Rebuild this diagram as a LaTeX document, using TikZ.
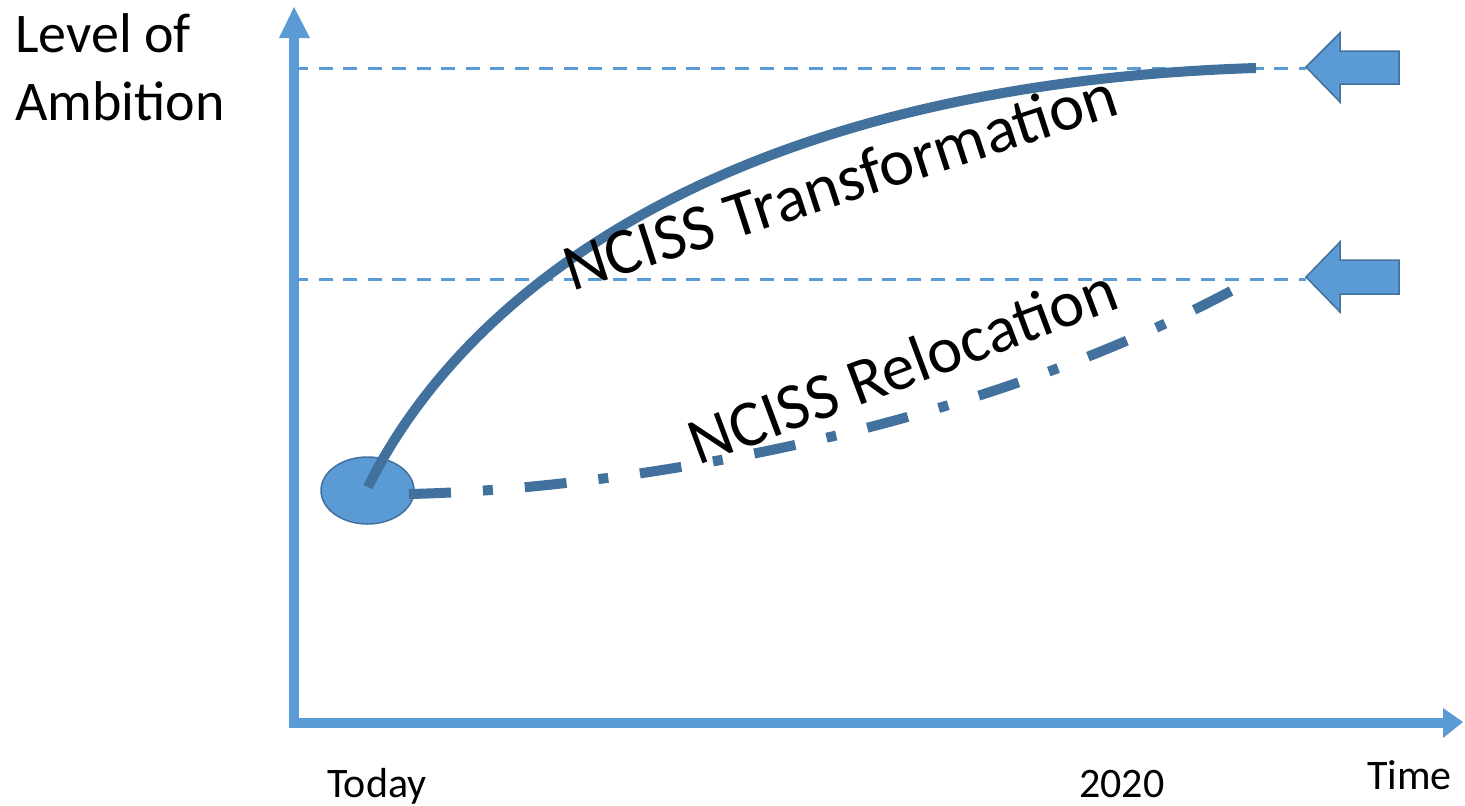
\documentclass[tikz,border=0pt]{standalone}
\usepackage{fontspec}
\setmainfont{Carlito}
\usetikzlibrary{arrows.meta}
\definecolor{axisblue}{HTML}{5B9BD5}
\definecolor{curveblue}{HTML}{41719C}
\tikzset{
  axisline/.style={draw=axisblue, line width=10pt},
  levelline/.style={draw=axisblue, line width=3pt, dash pattern=on 14pt off 10.5pt},
  curveline/.style={draw=curveblue, line width=10pt},
  dashdotline/.style={draw=curveblue, line width=10pt, dash pattern=on 42pt off 32pt on 10pt off 32pt},
  blockarrow/.style={fill=axisblue, draw=curveblue, line width=1.5pt, line join=miter},
  startblob/.style={fill=axisblue, draw=curveblue, line width=1.5pt},
  biglabel/.style={font=\fontsize{66}{79}\selectfont, inner sep=0pt},
  ticklabel/.style={font=\fontsize{42}{50}\selectfont, inner sep=0pt},
  axislabel/.style={font=\fontsize{56}{68}\selectfont, inner sep=0pt, align=left},
}
\begin{document}
\begin{tikzpicture}[x=1pt,y=-1pt]
\useasboundingbox (0,0) rectangle (1465,806);
% axes
\coordinate (origin) at (294,723);
\coordinate (ybot) at (294,728);
\coordinate (ytop) at (294,37);
\coordinate (xright) at (1444,723);
\draw[axisline] (ybot) -- (ytop);
\fill[axisblue] (279,38) -- (294,7) -- (310,38) -- cycle;
\draw[axisline] (origin) -- (xright);
\fill[axisblue] (1443,708) -- (1463,722) -- (1443,738) -- cycle;
% level lines
\coordinate (l1a) at (294,68);
\coordinate (l1b) at (1306,68);
\coordinate (l2a) at (294,279);
\coordinate (l2b) at (1306,279);
\draw[levelline] (l1a) -- (l1b);
\draw[levelline] (l2a) -- (l2b);
% block arrows
\draw[blockarrow] (1306,67) -- (1340,33) -- (1340,51) -- (1399,51) -- (1399,84) -- (1340,84) -- (1340,102) -- cycle;
\draw[blockarrow] (1306,277) -- (1340,242) -- (1340,260) -- (1399,260) -- (1399,294) -- (1340,294) -- (1340,312) -- cycle;
% start ellipse
\draw[startblob] (367.5,490.5) ellipse [x radius=46.5, y radius=33.5];
\coordinate (s1) at (368,487);
\coordinate (e1) at (1256,68);
\coordinate (s2) at (409,494);
\coordinate (e2) at (1231,291);
\draw[curveline] (s1) .. controls (460,300) and (715,85) .. (e1);
\draw[dashdotline] (s2) .. controls (600,490) and (950,440) .. (e2);
% labels
\node[biglabel, anchor=base west, rotate=18] (tr) at (572,292) {NCISS Transformation};
\node[biglabel, anchor=base west, rotate=20.5] (rl) at (698,466) {NCISS Relocation};
\node[axislabel, anchor=base west] (yl) at (15,120) {Level of\\Ambition};
\node[ticklabel, anchor=base west] (today) at (327,797) {Today};
\node[ticklabel, anchor=base west] (y2020) at (1079,797) {2020};
\node[ticklabel, anchor=base west] (time) at (1367,789) {Time};
\end{tikzpicture}
\end{document}
